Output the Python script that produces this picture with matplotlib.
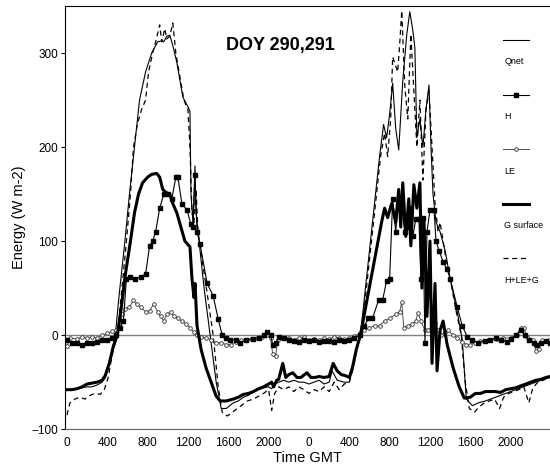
import matplotlib
matplotlib.use("Agg")
import matplotlib.pyplot as plt
from matplotlib.lines import Line2D

plt.rcParams['font.family'] = ['Liberation Sans', 'DejaVu Sans']

# hours since 0 GMT on DOY 290
qnet_t = [0, 0.5, 1, 1.5, 2, 2.5, 3, 3.5, 3.8, 4.2, 4.5, 4.8, 5.2, 5.75, 6.2, 6.7, 7.2, 7.8,
          8.4, 8.8, 9.0, 9.4, 9.6, 9.9, 10.2, 10.5, 10.9, 11.3, 11.5, 12.0, 12.2, 12.3, 12.5,
          12.7, 12.8, 13.0, 13.6, 14.2, 14.8, 15.3, 15.8, 16.5, 17.0, 17.5, 18, 18.5, 19, 19.5,
          20, 20.3, 20.6, 21, 21.5, 22, 22.5, 23, 23.5, 24, 24.5, 25, 25.5, 26, 26.3, 26.8,
          27.5, 28, 28.3, 28.7, 29.1, 29.6, 30.1, 30.4, 31.0, 31.4, 31.7, 32.0, 32.3, 32.6,
          32.9, 33.3, 33.7, 34.0, 34.3, 34.5, 34.7, 35.0, 35.3, 35.6, 35.9, 36.1, 36.3, 36.6,
          37.0, 37.5, 38.0, 38.7, 39.2, 39.6, 40.2, 40.8, 41.5, 42, 42.5, 43, 43.5, 44, 44.5,
          45, 45.5, 46, 46.5, 47, 47.9]
qnet_v = [-58, -58, -57, -56, -55, -55, -53, -50, -45, -30, -15, 0, 45, 100, 150, 200, 250, 280,
          300, 308, 312, 313, 312, 318, 319, 308, 290, 265, 253, 243, 238, 150, 120,
          180, 130, 110, 50, 0, -50, -78, -78, -72, -70, -66, -64, -60, -58, -56,
          -55, -57, -52, -50, -48, -50, -48, -50, -50, -52, -50, -48, -52, -50, -38, -48,
          -50, -50, -35, -15, 0, 50, 100, 130, 190, 224, 210, 235, 268, 220,
          197, 270, 320, 344, 324, 306, 210, 230, 200, 240, 266, 200, 150, 120,
          110, 90, 60, 25, -5, -68, -75, -72, -70, -68, -66, -64, -62, -60, -58,
          -56, -54, -52, -50, -48, -45]

h_t = [0, 0.5, 1, 1.5, 2, 2.5, 3, 3.5, 4, 4.5, 4.9, 5.3, 5.6, 5.9, 6.3, 6.8, 7.3, 7.8, 8.2,
       8.5, 8.8, 9.2, 9.6, 10.0, 10.4, 10.8, 11.0, 11.4, 11.9, 12.3, 12.5, 12.7, 12.9, 13.2,
       13.9, 14.5, 15.0, 15.4, 15.8, 16.2, 16.8, 17.2, 17.8, 18.5, 19, 19.5, 19.8, 20.2, 20.4,
       20.7, 21, 21.5, 22, 22.5, 23, 23.5, 24, 24.5, 25, 25.5, 26, 26.5, 27, 27.5, 28, 28.5,
       29.1, 29.5, 29.9, 30.3, 30.9, 31.3, 31.7, 32.0, 32.3, 32.6, 32.9, 33.2, 33.5, 33.8,
       34.0, 34.3, 34.6, 34.9, 35.1, 35.3, 35.5, 35.7, 36.0, 36.4, 36.6, 36.9, 37.3, 37.7,
       38.0, 38.7, 39.2, 39.7, 40.2, 40.8, 41.5, 42, 42.5, 43, 43.6, 44, 44.5, 45, 45.4,
       45.8, 46.3, 46.6, 47, 47.5, 47.9]
h_v = [-5, -8, -8, -10, -8, -8, -7, -5, -5, -3, 0, 8, 15, 60, 62, 60, 62, 65, 95,
       100, 110, 135, 150, 150, 145, 168, 168, 140, 133, 118, 115, 170, 110, 97,
       55, 42, 17, 0, -3, -5, -5, -8, -5, -4, -3, 0, 3, 0, -10,
       -8, -2, -3, -5, -6, -7, -5, -6, -5, -7, -6, -6, -7, -5, -6, -5, -3,
       0, 10, 18, 18, 37, 37, 58, 60, 145, 110, 145, 140, 110, 115,
       135, 105, 124, 124, 60, 125, -8, 110, 133, 133, 100, 90, 78, 70,
       60, 30, 10, -2, -5, -8, -6, -5, -3, -5, -7, -4, 0, 5, 0,
       -5, -8, -10, -8, -6, -8]

le_t = [0, 0.3, 1, 1.5, 2, 2.5, 3, 3.5, 4, 4.5, 4.9, 5.2, 5.5, 5.8, 6.2, 6.6, 6.9, 7.3, 7.8,
        8.2, 8.6, 9.0, 9.3, 9.6, 9.9, 10.3, 10.6, 11.0, 11.4, 11.8, 12.2, 12.6, 12.9, 13.3,
        13.8, 14.3, 14.8, 15.3, 15.8, 16.3, 16.8, 17.3, 17.8, 18.3, 18.8, 19.3, 19.8, 20.2,
        20.4, 20.7, 20.9, 21.3, 22, 22.5, 23, 23.5, 24, 24.5, 25, 25.5, 26, 26.5, 27, 27.5,
        28, 28.5, 29.1, 29.5, 30, 30.5, 31, 31.5, 32, 32.6, 33.0, 33.2, 33.4, 33.8, 34.2,
        34.6, 34.8, 35.1, 35.5, 35.8, 36.2, 36.5, 36.8, 37.1, 37.5, 37.8, 38.3, 38.7, 39.2,
        39.6, 40, 40.5, 41, 41.8, 42.5, 43.2, 44, 44.6, 45.0, 45.3, 45.6, 46.2, 46.5, 46.8,
        47.1, 47.8]
le_v = [-12, -3, -4, -2, -3, -2, -3, 0, 2, 4, 5, 10, 22, 28, 30, 37, 33, 30, 25,
        26, 33, 25, 20, 15, 22, 25, 20, 18, 15, 12, 8, 3, 0, -2,
        -3, -5, -8, -8, -10, -10, -7, -5, -5, -4, -3, -2, 0, -3,
        -20, -22, -5, -3, -3, -5, -3, -2, -5, -4, -5, -3, -4, -2, -3, -4,
        -3, -1, 2, 5, 8, 10, 10, 15, 18, 22, 25, 35, 8, 10, 12,
        15, 24, 15, 5, 5, 10, 13, 5, 0, 3, 5, 0, -3, -7,
        -10, -10, -8, -6, -5, -4, -3, -3, 0, 8, 8, -2, -5, -17, -15,
        -5, -5]

g_t = [0, 0.5, 1, 1.5, 2, 2.5, 3, 3.5, 3.8, 4.2, 4.6, 5.0, 5.4, 5.8, 6.3, 6.7, 7.1, 7.5, 8.0,
       8.4, 8.9, 9.2, 9.5, 9.8, 10.2, 10.5, 10.9, 11.3, 11.7, 12.2, 12.4, 12.6, 12.7, 12.9,
       13.3, 13.8, 14.3, 14.8, 15.2, 15.8, 16.5, 17.0, 17.5, 18, 18.5, 19, 19.5, 20, 20.3,
       20.5, 20.8, 21, 21.4, 21.7, 22, 22.4, 22.8, 23.2, 23.8, 24.2, 24.6, 25, 25.5, 26,
       26.4, 26.8, 27.2, 27.6, 28.0, 28.3, 28.7, 29.1, 29.8, 30.5, 31.2, 31.5, 31.8, 32.2,
       32.6, 32.9, 33.1, 33.3, 33.6, 33.9, 34.1, 34.4, 34.7, 35.0, 35.2, 35.4, 35.7, 36.0,
       36.2, 36.5, 36.7, 37.0, 37.3, 37.7, 38.3, 38.9, 39.4, 40, 40.5, 41, 41.5, 42, 42.5,
       43, 43.5, 44, 44.5, 45, 45.5, 46, 46.5, 47, 47.5, 47.9]
g_v = [-58, -58, -57, -55, -52, -51, -50, -48, -43, -30, -12, 0, 30, 65, 100, 130, 150, 162, 168,
       171, 172, 168, 155, 152, 150, 140, 130, 115, 100, 94, 60, 40, 55, 10,
       -15, -35, -50, -65, -70, -70, -68, -66, -63, -62, -60, -57, -55, -52, -50,
       -55, -48, -47, -30, -45, -42, -40, -45, -45, -40, -45, -45, -44, -45, -44,
       -30, -38, -42, -43, -45, -35, -15, 0, 40, 80, 120, 135, 125, 140,
       120, 155, 115, 162, 105, 145, 95, 160, 135, 162, 50, 125, 20, 100,
       -30, 55, -38, 5, 15, -10, -35, -55, -67, -66, -62, -62, -60, -60, -60,
       -61, -58, -57, -56, -54, -52, -50, -48, -47, -45, -44]

sum_t = [0, 0.3, 0.8, 1.3, 1.8, 2.3, 2.8, 3.3, 3.7, 4.1, 4.5, 5.0, 5.5, 5.9, 6.3, 6.6, 7.0,
         7.4, 7.8, 8.1, 8.5, 8.8, 9.2, 9.4, 9.7, 9.9, 10.2, 10.5, 10.8, 11.2, 11.6, 12.0,
         12.2, 12.4, 12.6, 12.8, 13.0, 13.4, 13.9, 14.5, 15.0, 15.4, 15.9, 16.4, 16.9, 17.4,
         17.9, 18.5, 19, 19.5, 20, 20.3, 20.6, 21, 21.5, 22, 22.5, 23, 23.5, 24, 24.5, 25,
         25.5, 26, 26.5, 27, 27.5, 28, 28.4, 28.8, 29.2, 29.7, 30.2, 30.7, 31.1, 31.5, 31.8,
         32.1, 32.3, 32.8, 33.0, 33.2, 33.5, 33.8, 34.1, 34.4, 34.7, 35.0, 35.3, 35.6, 35.9,
         36.2, 36.5, 36.8, 37.0, 37.3, 37.6, 38.0, 38.6, 39.1, 39.5, 39.9, 40.4, 40.9, 41.4,
         41.9, 42.4, 42.9, 43.3, 43.8, 44.3, 44.8, 45.3, 45.8, 46.2, 46.7, 47.2, 47.9]
sum_v = [-85, -72, -68, -66, -68, -64, -62, -63, -58, -45, -20, 0, 55, 100, 150, 200, 225,
         240, 250, 280, 300, 312, 330, 312, 326, 315, 318, 332, 300, 275, 250, 240,
         200, 130, 120, 155, 110, 80, 45, 0, -55, -82, -86, -82, -78, -74,
         -70, -68, -65, -62, -58, -80, -62, -55, -58, -55, -60, -55, -58, -62, -58, -60,
         -55, -60, -50, -58, -52, -50, -35, -12, 0, 50, 100, 150, 190, 215, 190,
         230, 296, 280, 310, 345, 265, 230, 320, 260, 200, 250, 165, 240, 260,
         200, 140, 110, 120, 100, 80, 60, 25, 0, -50, -78, -82, -76, -72,
         -70, -68, -78, -66, -62, -60, -58, -55, -72, -56, -50, -48, -45]

tick_hours = [0, 4, 8, 12, 16, 20, 24, 28, 32, 36, 40, 44]
tick_labels = ['0', '400', '800', '1200', '1600', '2000', '0', '400', '800', '1200', '1600', '2000']

fig = plt.figure(figsize=(5.5, 4.68), dpi=100)
ax = fig.add_axes([0.118, 0.083, 0.882, 0.904])

ax.axhline(0, color='#808080', lw=1.0, zorder=1)
ax.plot(qnet_t, qnet_v, color='black', lw=0.8, zorder=3)
ax.plot(sum_t, sum_v, color='black', lw=0.9, dashes=(4, 3), zorder=3)
ax.plot(le_t, le_v, color='#505050', lw=0.7, marker='o', ms=2.6, mfc='white',
        mec='#303030', mew=0.6, zorder=4)
ax.plot(h_t, h_v, color='black', lw=0.8, marker='s', ms=3.2, mfc='black', mec='black', zorder=4)
ax.plot(g_t, g_v, color='black', lw=2.2, zorder=5)

ax.set_xlim(-0.2, 47.9)
ax.set_ylim(-100, 350)
ax.set_xticks(tick_hours)
ax.set_xticklabels(tick_labels)
ax.set_yticks([-100, 0, 100, 200, 300])
ax.tick_params(axis='x', length=0, labelsize=8.5, pad=6)
ax.tick_params(axis='y', length=3, labelsize=8.5, pad=2)
ax.spines['right'].set_visible(False)
ax.spines['bottom'].set_color('#606060')
ax.set_xlabel('Time GMT', fontsize=10.5, labelpad=1)
ax.set_ylabel('Energy (W m-2)', fontsize=10.5, labelpad=4)

ax.text(0.445, 0.908, 'DOY 290,291', transform=ax.transAxes, fontsize=13,
        fontweight='bold', ha='center', va='center')

# hand-made legend: sample line above its label
legend_items = [
    ('Qnet', dict(color='black', lw=0.8)),
    ('H', dict(color='black', lw=0.8, marker='s', ms=3, markevery=[1])),
    ('LE', dict(color='#505050', lw=0.7, marker='o', ms=2.6, mfc='white', mec='#303030',
                mew=0.6, markevery=[1])),
    ('G surface', dict(color='black', lw=2.2)),
    ('H+LE+G', dict(color='black', lw=0.9, dashes=(4, 3))),
]
y0 = 0.92
for i, (name, style) in enumerate(legend_items):
    yl = y0 - i * 0.129
    ax.add_line(Line2D([0.903, 0.93, 0.957], [yl, yl, yl], transform=ax.transAxes,
                       clip_on=False, **style))
    ax.text(0.906, yl - 0.052, name, transform=ax.transAxes, fontsize=6.5,
            ha='left', va='center')

fig.savefig('out.png', dpi=100)
